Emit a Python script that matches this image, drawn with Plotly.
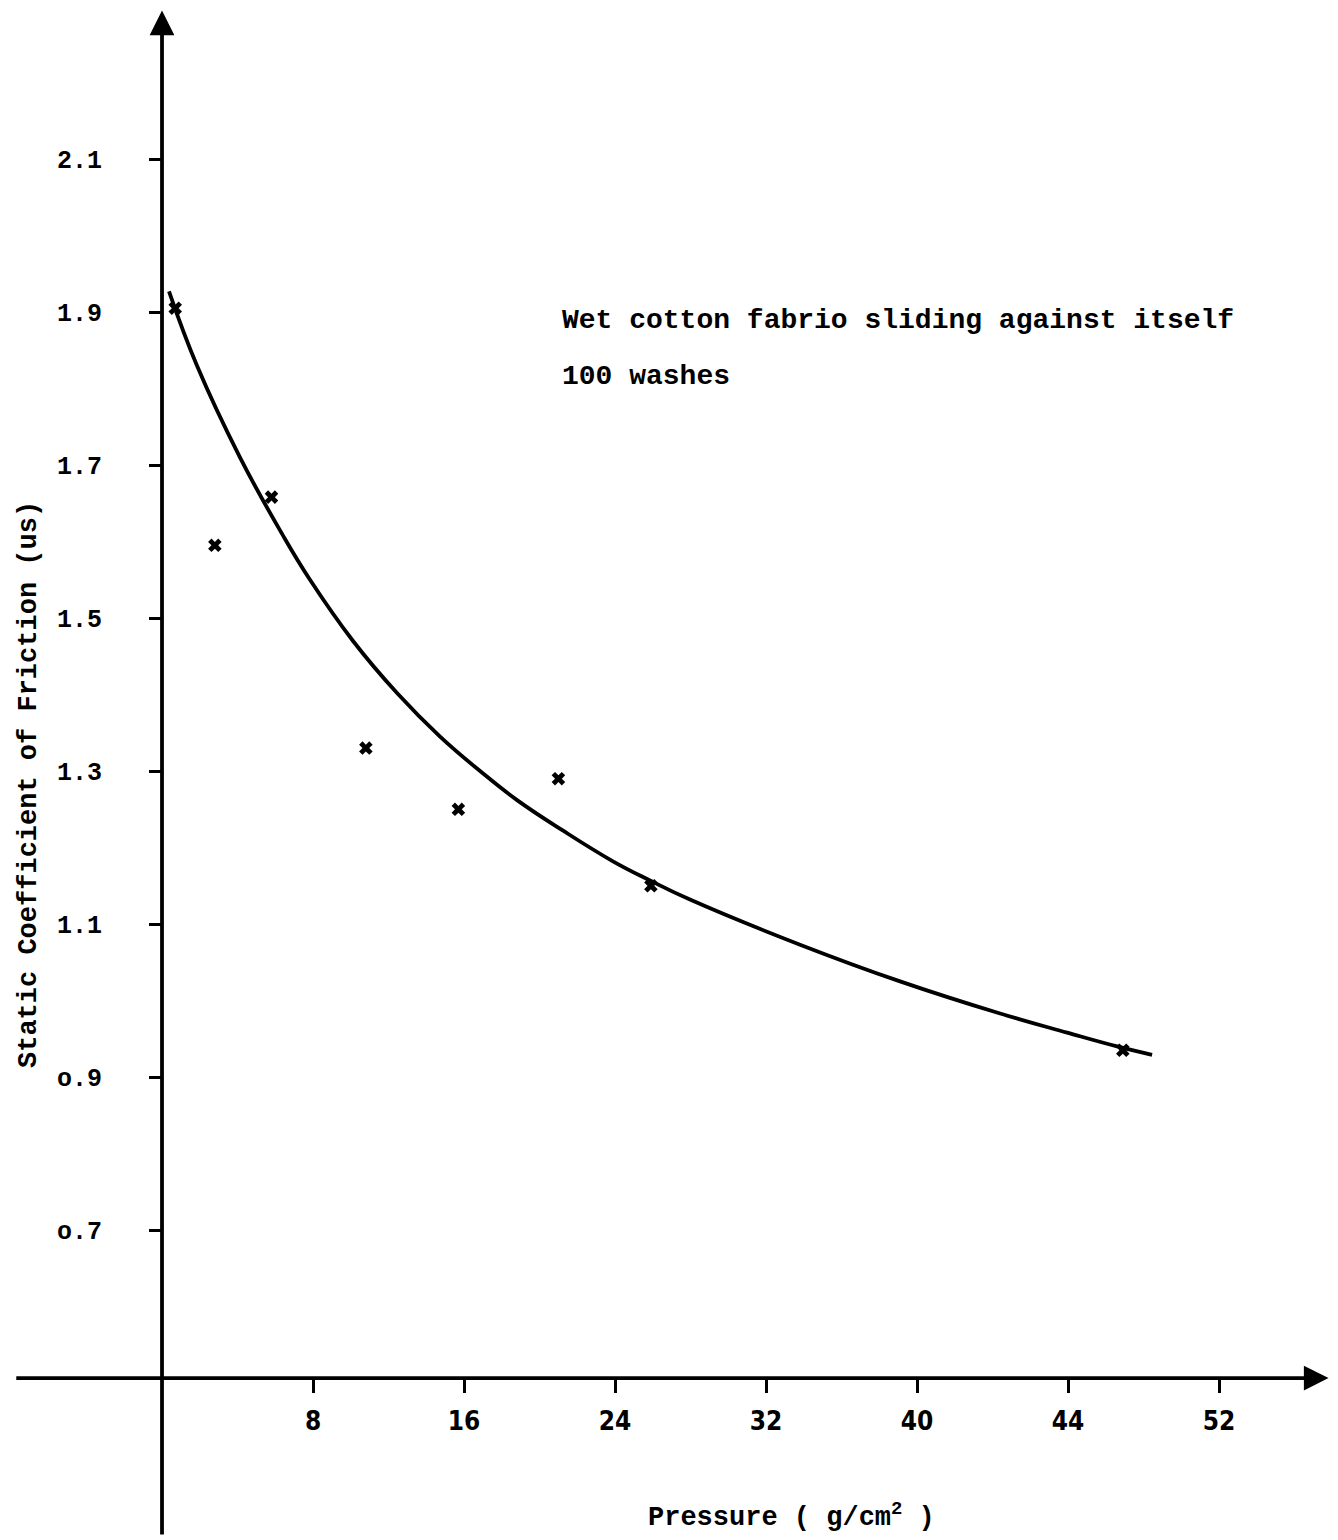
import plotly.graph_objects as go

# Measured data points (Pressure g/cm^2, static coefficient of friction)
pressure = [0.7, 2.8, 5.8, 10.8, 15.7, 21.0, 25.9, 50.9]
friction = [1.905, 1.595, 1.658, 1.33, 1.25, 1.29, 1.15, 0.935]

# Hand-drawn fitted curve
curve_x = [0.37, 1.85, 4.13, 6.36, 7.84, 10.12, 12.45, 14.73, 16.85, 18.81, 21.25,
           23.89, 25.85, 27.97, 33.80, 39.10, 44.40, 47.95, 50.60, 52.45]
curve_y = [1.927, 1.830, 1.710, 1.610, 1.550, 1.470, 1.402, 1.345, 1.300, 1.262, 1.222,
           1.182, 1.157, 1.132, 1.073, 1.025, 0.983, 0.958, 0.940, 0.929]

# Tick labels as printed on the chart
x_tickvals = [8, 16, 24, 32, 40, 48, 56]
x_ticktext = ["8", "16", "24", "32", "40", "44", "52"]
y_tickvals = [0.7, 0.9, 1.1, 1.3, 1.5, 1.7, 1.9, 2.1]
y_ticktext = ["o.7", "o.9", "1.1", "1.3", "1.5", "1.7", "1.9", "2.1"]

# The page body has an 8px margin, so the figure is 8px smaller than the window
OFF = 8
W, H = 1338 - OFF, 1540 - OFF
X_RANGE = [-8.159, 62.30]
Y_RANGE = [0.2948, 2.2974]
X_AXIS_Y = 0.5065   # value where the pressure axis crosses
MONO = "Liberation Mono, Courier New, monospace"


def px(p):   # page pixel x -> paper fraction
    return (p - OFF) / W


def py(p):   # page pixel y -> paper fraction
    return 1 - (p - OFF) / H


fig = go.Figure()
fig.add_trace(go.Scatter(x=curve_x, y=curve_y, mode="lines",
                         line=dict(color="black", width=3.8, shape="spline", smoothing=1.2),
                         hoverinfo="skip", showlegend=False))
fig.add_trace(go.Scatter(x=pressure, y=friction, mode="markers",
                         marker=dict(symbol="x", size=12, color="black",
                                     line=dict(width=0)),
                         showlegend=False))

ypos_paper = (X_AXIS_Y - Y_RANGE[0]) / (Y_RANGE[1] - Y_RANGE[0])
xpos_paper = (0 - X_RANGE[0]) / (X_RANGE[1] - X_RANGE[0])

fig.update_layout(
    width=W, height=H,
    margin=dict(l=0, r=0, t=0, b=0, autoexpand=False),
    paper_bgcolor="white", plot_bgcolor="white",
    xaxis=dict(range=X_RANGE, showgrid=False, zeroline=False, showline=False,
               automargin=False,
               anchor="free", position=ypos_paper, side="bottom",
               tickmode="array", tickvals=x_tickvals, ticktext=x_ticktext,
               ticks="outside", ticklen=14, tickwidth=3, tickcolor="black",
               ticklabelstandoff=6,
               tickfont=dict(family="Liberation Sans Narrow, DejaVu Sans Condensed, Arial Narrow, sans-serif",
                             size=26, color="black", weight="bold")),
    yaxis=dict(range=Y_RANGE, showgrid=False, zeroline=False, showline=False,
               automargin=False,
               anchor="free", position=xpos_paper, side="left",
               tickmode="array", tickvals=y_tickvals, ticktext=y_ticktext,
               ticks="outside", ticklen=13, tickwidth=3, tickcolor="black",
               ticklabelstandoff=42,
               tickfont=dict(family=MONO, size=25, color="black", weight="bold")),
)

# Axis lines with arrowheads
fig.add_annotation(x=0, y=2.294, ax=0, ay=0.300, xref="x", yref="y", axref="x", ayref="y",
                   text="", showarrow=True, arrowhead=2, arrowsize=1.3, arrowwidth=3.8,
                   arrowcolor="black", standoff=0, startstandoff=0)
fig.add_annotation(x=61.8, y=X_AXIS_Y, ax=-7.8, ay=X_AXIS_Y, xref="x", yref="y", axref="x", ayref="y",
                   text="", showarrow=True, arrowhead=2, arrowsize=1.3, arrowwidth=3.8,
                   arrowcolor="black", standoff=0, startstandoff=0)

# Chart note
fig.add_annotation(x=21.1, y=1.8895, xref="x", yref="y", xanchor="left", yanchor="middle",
                   text="Wet cotton fabrio sliding against itself", showarrow=False,
                   font=dict(family=MONO, size=28, color="black", weight="bold"))
fig.add_annotation(x=21.1, y=1.8163, xref="x", yref="y", xanchor="left", yanchor="middle",
                   text="100 washes", showarrow=False,
                   font=dict(family=MONO, size=28, color="black", weight="bold"))

# Axis titles
fig.add_annotation(x=px(792), y=py(1535), xref="paper", yref="paper",
                   xanchor="center", yanchor="bottom", showarrow=False,
                   text="Pressure ( g/cm<sup>2</sup> )",
                   font=dict(family=MONO, size=27, color="black", weight="bold"))
fig.add_annotation(x=px(29), y=py(785), xref="paper", yref="paper",
                   xanchor="center", yanchor="middle", showarrow=False, textangle=-90,
                   text="Static Coefficient of Friction (us)",
                   font=dict(family=MONO, size=27, color="black", weight="bold"))

fig.write_html("out.html")
